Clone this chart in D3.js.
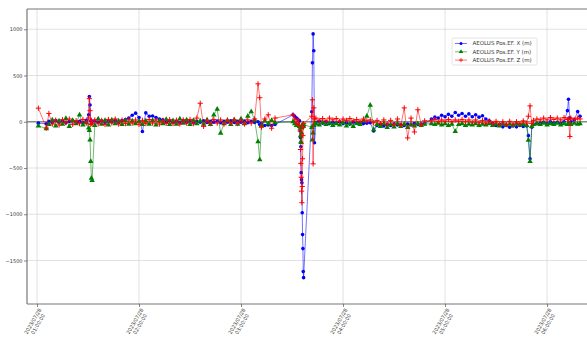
<!DOCTYPE html>
<html><head><meta charset="utf-8">
<script src="https://cdn.jsdelivr.net/npm/d3@7"></script>
<style>body{margin:0;background:#fff}svg{display:block}</style>
</head><body><svg id="c" width="587" height="338"></svg>
<script>
// ---- data (minutes after 2023-07-28 01:00:00) ----
const baseTime = "2023-07-28T01:00:00";
const minutes = [
  0.8, 5.5,
  7,9,11,13,15,17,19,21,23,25,27,29,
  30.4,30.8,31.2,31.6,32.0,32.4,
  34,36,38,40,42,44,46,48,50,52,54,56,58,60,62,64,66,68,70,72,74,76,78,80,82,84,86,88,90,92,94,96,98,100,102,104,106,108,110,112,114,116,118,120,122,124,126,128,130,
  131,132,134,136,138,140,
  150.6,151.6,152.6,153.6,154.4,
  154.8,155.0,155.2,155.4,155.6,155.8,156.0,156.2,156.4,156.6,156.8,
  161.6,162.0,162.4,162.8,163.2,
  164,166,168,170,172,174,176,178,180,182,184,186,188,190,192,194,196,198,200,202,204,206,208,210,212,214,216,218,220,222,224,226,228,
  232,234,236,238,240,242,244,246,248,250,252,254,256,258,260,262,264,266,268,270,272,274,276,278,280,282,284,286,288,
  289,290,291,
  292,294,296,298,300,302,304,306,308,310,312,
  312.6,313.4,
  314,316,318,
  319.4
];
const posX = [
  -15,-22,
  5,-8,12,-4,8,-12,3,10,-6,4,-10,15,
  75,273,182,10,-20,5,
  8,-5,10,-12,6,-3,15,-8,12,25,40,70,93,45,-106,96,60,62,45,30,20,-5,10,-8,5,-10,12,-6,8,-12,5,-5,10,-8,6,-4,8,-10,5,-6,10,-8,6,-4,8,-10,5,-8,0,
  -30,-20,-40,-35,-40,-30,
  75,57,40,20,10,
  -100,-173,-270,-550,-626,-660,-983,-1220,-1371,-1620,-1685,
  108,637,950,767,-227,
  -10,5,-15,0,-20,-5,-15,0,-20,-10,-25,-5,-15,-10,-20,-15,-10,-100,-40,-30,-45,-30,-40,-25,-35,-30,-40,-25,-35,-20,-30,-25,-20,
  30,50,40,70,55,80,60,100,70,90,60,85,55,75,50,65,30,10,-20,-40,-30,-55,-40,-60,-45,-55,-40,-50,-45,
  -150,-400,-60,
  -30,-20,-15,-5,-20,0,-15,-5,-20,0,120,
  244,40,
  0,20,110,
  60
];
const posY = [
  -44,-75,
  -30,20,-45,10,-25,35,-50,15,-20,75,-35,-10,
  -66,-94,-195,-429,-610,-635,
  -40,30,-25,15,-35,20,-20,10,-30,15,-25,10,-20,5,-30,10,-25,15,-35,10,-20,25,-30,12,-25,30,-15,20,-30,15,-20,10,-25,20,-30,74,137,-123,-20,15,-30,20,-25,30,-20,60,110,20,-216,
  -410,-40,10,-20,15,-10,
  0,-20,-40,-30,-50,
  -70,-150,-214,-224,-120,-60,-40,-30,-50,-40,-30,
  -60,-195,-120,-40,-20,
  -20,-35,-10,-30,-15,-40,-20,-35,-10,-45,-20,-50,-15,-30,10,60,180,-85,-30,-50,-20,-60,-30,-55,-20,-50,-25,-60,-30,-45,-20,-40,-25,
  -20,-30,-15,-35,-20,-40,-25,-105,-30,-20,-40,-25,-35,-20,-40,-25,-35,-20,-40,-25,-45,-20,-35,-25,-40,-20,-35,-25,-40,
  -200,-430,-50,
  -30,-20,-30,-15,-35,-20,-30,-15,-35,-20,-30,
  -20,-25,
  -30,-15,-25,
  -20
];
const posZ = [
  147,-68,
  90,-25,18,-35,22,-10,30,-28,12,-20,25,-15,
  40,250,120,-30,15,-20,
  20,-22,15,-30,25,-12,30,-25,18,-20,22,-15,20,-28,15,-20,25,-15,20,-25,15,-18,22,-20,18,-25,20,-15,25,-20,40,200,-50,15,-20,25,-15,20,-25,18,-15,22,-20,15,-25,20,-15,30,410,
  260,-60,30,75,-70,40,
  75,30,-20,20,-40,
  -100,-300,-450,-600,-750,-875,-700,-400,-150,-60,-20,
  60,237,-455,150,30,
  40,15,35,10,40,20,35,5,30,15,35,10,25,5,30,10,20,-10,15,-20,20,-25,15,-30,30,-40,150,-175,40,-110,130,-30,10,
  10,25,0,20,5,25,0,20,5,25,0,20,-5,20,-10,15,-15,10,-20,5,-25,0,-30,5,-25,0,-20,10,-15,
  60,172,-20,
  15,30,20,40,20,45,25,40,20,45,25,
  30,-160,
  40,25,40,
  30
];
const seriesNames = ["AEOLUS Pos.EF. X (m)", "AEOLUS Pos.EF. Y (m)", "AEOLUS Pos.EF. Z (m)"];
const seriesColors = ["#0000ff", "#008000", "#ff0000"];
const yTicks = [1000, 500, 0, -500, -1000, -1500];
const xTicks = ["2023-07-28T01:00:00","2023-07-28T02:00:00","2023-07-28T03:00:00","2023-07-28T04:00:00","2023-07-28T05:00:00","2023-07-28T06:00:00"];
const xDomain = ["2023-07-28T00:54:07", "2023-07-28T06:42:54"];
const yDomain = [-1970, 1219];

// ---- drawing ----
const parse = d3.timeParse("%Y-%m-%dT%H:%M:%S");
const base = parse(baseTime);
const times = minutes.map(m => new Date(base.getTime() + m * 60000));
const svg = d3.select("#c");
const L = 27, R = 620, T = 9, B = 304;
const x = d3.scaleTime().domain(xDomain.map(parse)).range([L, R]);
const y = d3.scaleLinear().domain(yDomain).range([B, T]);
const xt = xTicks.map(parse);

svg.append("defs").append("clipPath").attr("id","clip")
  .append("rect").attr("x", L).attr("y", T).attr("width", R - L).attr("height", B - T);

// grid
const grid = svg.append("g");
grid.selectAll(".gv").data(xt).join("line")
  .attr("x1", d => x(d)).attr("x2", d => x(d)).attr("y1", T).attr("y2", B)
  .attr("stroke", "#d9d9d9").attr("stroke-width", 0.8);
grid.selectAll(".gh").data(yTicks).join("line")
  .attr("x1", L).attr("x2", R).attr("y1", d => y(d)).attr("y2", d => y(d))
  .attr("stroke", "#d9d9d9").attr("stroke-width", 0.8);
// zero reference line
svg.append("line").attr("x1", L).attr("x2", R).attr("y1", y(0)).attr("y2", y(0))
  .attr("stroke", "#8c8c8c").attr("stroke-width", 1.3);

// series
const plot = svg.append("g").attr("clip-path", "url(#clip)");
const seriesVals = [posX, posY, posZ];
const line = d3.line().x(d => x(d[0])).y(d => y(d[1]));
const tri = d3.symbol().type(d3.symbolTriangle).size(13);
seriesVals.forEach((vals, i) => {
  const pts = vals.map((v, k) => [times[k], v]);
  const g = plot.append("g");
  g.append("path").datum(pts).attr("d", line).attr("fill", "none")
    .attr("stroke", seriesColors[i]).attr("stroke-opacity", 0.55).attr("stroke-width", 1);
  if (i === 0) {
    g.selectAll("circle").data(pts).join("circle")
      .attr("cx", d => x(d[0])).attr("cy", d => y(d[1])).attr("r", 1.8)
      .attr("fill", seriesColors[i]);
  } else if (i === 1) {
    g.selectAll("path.m").data(pts).join("path").attr("class","m")
      .attr("transform", d => `translate(${x(d[0])},${y(d[1])})`).attr("d", tri)
      .attr("fill", seriesColors[i]);
  } else {
    g.selectAll("path.m").data(pts).join("path").attr("class","m")
      .attr("transform", d => `translate(${x(d[0])},${y(d[1])})`)
      .attr("d", "M-2.6,0H2.6M0,-2.6V2.6").attr("stroke", seriesColors[i]).attr("stroke-width", 1)
      .attr("fill", "none");
  }
});

// spines
const sp = svg.append("g").attr("stroke", "#777").attr("stroke-width", 1.2);
sp.append("line").attr("x1", L).attr("x2", L).attr("y1", T).attr("y2", B);
sp.append("line").attr("x1", L).attr("x2", R).attr("y1", T).attr("y2", T);
sp.append("line").attr("x1", L).attr("x2", R).attr("y1", B).attr("y2", B);

// y axis
const yAxis = d3.axisLeft(y).tickValues(yTicks).tickSize(3).tickPadding(1.5)
  .tickFormat(d => d < 0 ? "\u2212" + Math.abs(d) : String(d));
const ya = svg.append("g").attr("transform", `translate(${L},0)`).call(yAxis);
ya.select(".domain").remove();
ya.selectAll("line").attr("stroke", "#555").attr("stroke-width", 0.7);
ya.selectAll("text").attr("font-family", "DejaVu Sans").attr("font-size", 5).attr("fill", "#333");

// x axis
const xAxis = d3.axisBottom(x).tickValues(xt).tickSize(3).tickFormat("");
const xa = svg.append("g").attr("transform", `translate(0,${B})`).call(xAxis);
xa.select(".domain").remove();
xa.selectAll("line").attr("stroke", "#555").attr("stroke-width", 0.7);
const fDate = d3.timeFormat("%Y/%m/%d"), fTime = d3.timeFormat("%H:%M:%S");
const lab = svg.append("g").selectAll("g").data(xt).join("g")
  .attr("transform", d => `translate(${x(d) - 1},323) rotate(-60)`);
lab.append("text").attr("y", -1.8).attr("text-anchor", "middle")
  .attr("font-family", "DejaVu Sans").attr("font-size", 5).attr("fill", "#333").text(d => fDate(d));
lab.append("text").attr("y", 4.0).attr("text-anchor", "middle")
  .attr("font-family", "DejaVu Sans").attr("font-size", 5).attr("fill", "#333").text(d => fTime(d));

// legend
const lg = svg.append("g").attr("transform", "translate(452,38)");
lg.append("rect").attr("width", 85).attr("height", 27).attr("rx", 1.5)
  .attr("fill", "#fff").attr("fill-opacity", 0.85).attr("stroke", "#dcdcdc").attr("stroke-width", 0.8);
seriesNames.forEach((name, i) => {
  const yy = 5.5 + i * 8.3;
  const e = lg.append("g").attr("transform", `translate(0,${yy})`);
  e.append("line").attr("x1", 3).attr("x2", 15).attr("stroke", seriesColors[i])
    .attr("stroke-opacity", 0.55).attr("stroke-width", 1);
  if (i === 0) e.append("circle").attr("cx", 9).attr("r", 1.5).attr("fill", seriesColors[i]);
  else if (i === 1) e.append("path").attr("transform", "translate(9,0)")
    .attr("d", d3.symbol().type(d3.symbolTriangle).size(9)).attr("fill", seriesColors[i]);
  else e.append("path").attr("transform", "translate(9,0)").attr("d", "M-2,0H2M0,-2V2")
    .attr("stroke", seriesColors[i]).attr("stroke-width", 0.8);
  e.append("text").attr("x", 20.5).attr("dy", "0.35em").attr("font-family", "DejaVu Sans")
    .attr("font-size", 5.5).attr("fill", "#333").text(name);
});
</script></body></html>
